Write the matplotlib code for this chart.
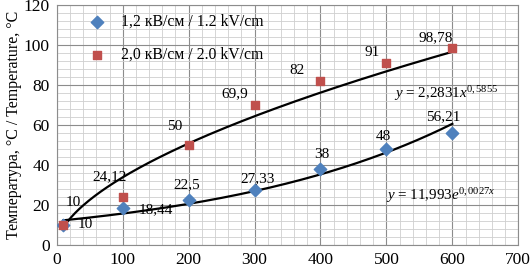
import numpy as np
import matplotlib.pyplot as plt
from matplotlib.ticker import MultipleLocator

plt.rcParams['font.family'] = ['Liberation Serif', 'DejaVu Serif']
plt.rcParams['mathtext.fontset'] = 'custom'
plt.rcParams['mathtext.rm'] = 'Liberation Serif'
plt.rcParams['mathtext.it'] = 'Liberation Serif:italic'

# field strength measurements
x_vals = [10, 100, 200, 300, 400, 500, 600]
t_12 = [10, 18.44, 22.5, 27.33, 38, 48, 56.21]      # 1.2 kV/cm
t_20 = [10, 24.12, 50, 69.9, 82, 91, 98.78]         # 2.0 kV/cm
lbl_12 = ['10', '18,44', '22,5', '27,33', '38', '48', '56,21']
lbl_20 = ['10', '24,12', '50', '69,9', '82', '91', '98,78']

# trendline coefficients as printed on the chart
pow_a, pow_b = 2.2831, 0.5855
exp_a, exp_b = 11.993, 0.0027

fig = plt.figure(figsize=(5.31, 2.68), dpi=100)
ax = fig.add_axes([0.107, 0.086, 0.869, 0.895])

ax.set_xlim(0, 700)
ax.set_ylim(0, 120)
ax.xaxis.set_major_locator(MultipleLocator(100))
ax.yaxis.set_major_locator(MultipleLocator(20))
ax.xaxis.set_minor_locator(MultipleLocator(20))
ax.yaxis.set_minor_locator(MultipleLocator(4))
ax.grid(which='major', color='#8c8c8c', lw=0.8)
ax.grid(which='minor', color='#cfcfcf', lw=0.6)
ax.set_axisbelow(True)
ax.tick_params(which='both', length=0, labelsize=12.5, pad=5)
for s in ax.spines.values():
    s.set_color('#8c8c8c')

xx = np.linspace(10, 600, 200)
ax.plot(xx, pow_a * xx ** pow_b, color='black', lw=1.6, zorder=2)
ax.plot(xx, exp_a * np.exp(exp_b * xx), color='black', lw=1.6, zorder=2)

ax.scatter(x_vals, t_12, marker='D', s=40, color='#4F81BD', zorder=3,
           label='1,2 кВ/см / 1.2 kV/cm')
ax.scatter(x_vals, t_20, marker='s', s=40, color='#C0504D', zorder=3,
           label='2,0 кВ/см / 2.0 kV/cm')

# label offsets in pixels (dx, dy up)
off_20 = [(10, 22), (-13, 20), (-14, 19), (-20, 12), (-23, 11), (-14, 11), (-17, 10)]
off_12 = [(22, 0), (33, -2), (-2, 15), (3, 12), (1, 14), (-3, 13), (-9, 16)]
for xv, yv, t, (dx, dy) in zip(x_vals, t_20, lbl_20, off_20):
    ax.annotate(t, (xv, yv), xytext=(dx * 0.72, dy * 0.72), textcoords='offset points',
                ha='center', va='center', fontsize=11)
for xv, yv, t, (dx, dy) in zip(x_vals, t_12, lbl_12, off_12):
    ax.annotate(t, (xv, yv), xytext=(dx * 0.72, dy * 0.72), textcoords='offset points',
                ha='center', va='center', fontsize=11)

ax.text(590, 75.5, r'$y$ = 2,2831$x^{0,5855}$', ha='center', va='center', fontsize=10.8)
ax.text(583, 24.5, r'$y$ = 11,993$e^{0,0027x}$', ha='center', va='center', fontsize=10.8)

ax.legend(loc='upper left', bbox_to_anchor=(0.03, 1.01), frameon=False,
          fontsize=11.3, labelspacing=1.1, handletextpad=0.5, borderaxespad=0.3)

ax.set_ylabel('Температура, °C / Temperature, °C', fontsize=11.5, labelpad=1)

fig.savefig('out.png', dpi=100)
